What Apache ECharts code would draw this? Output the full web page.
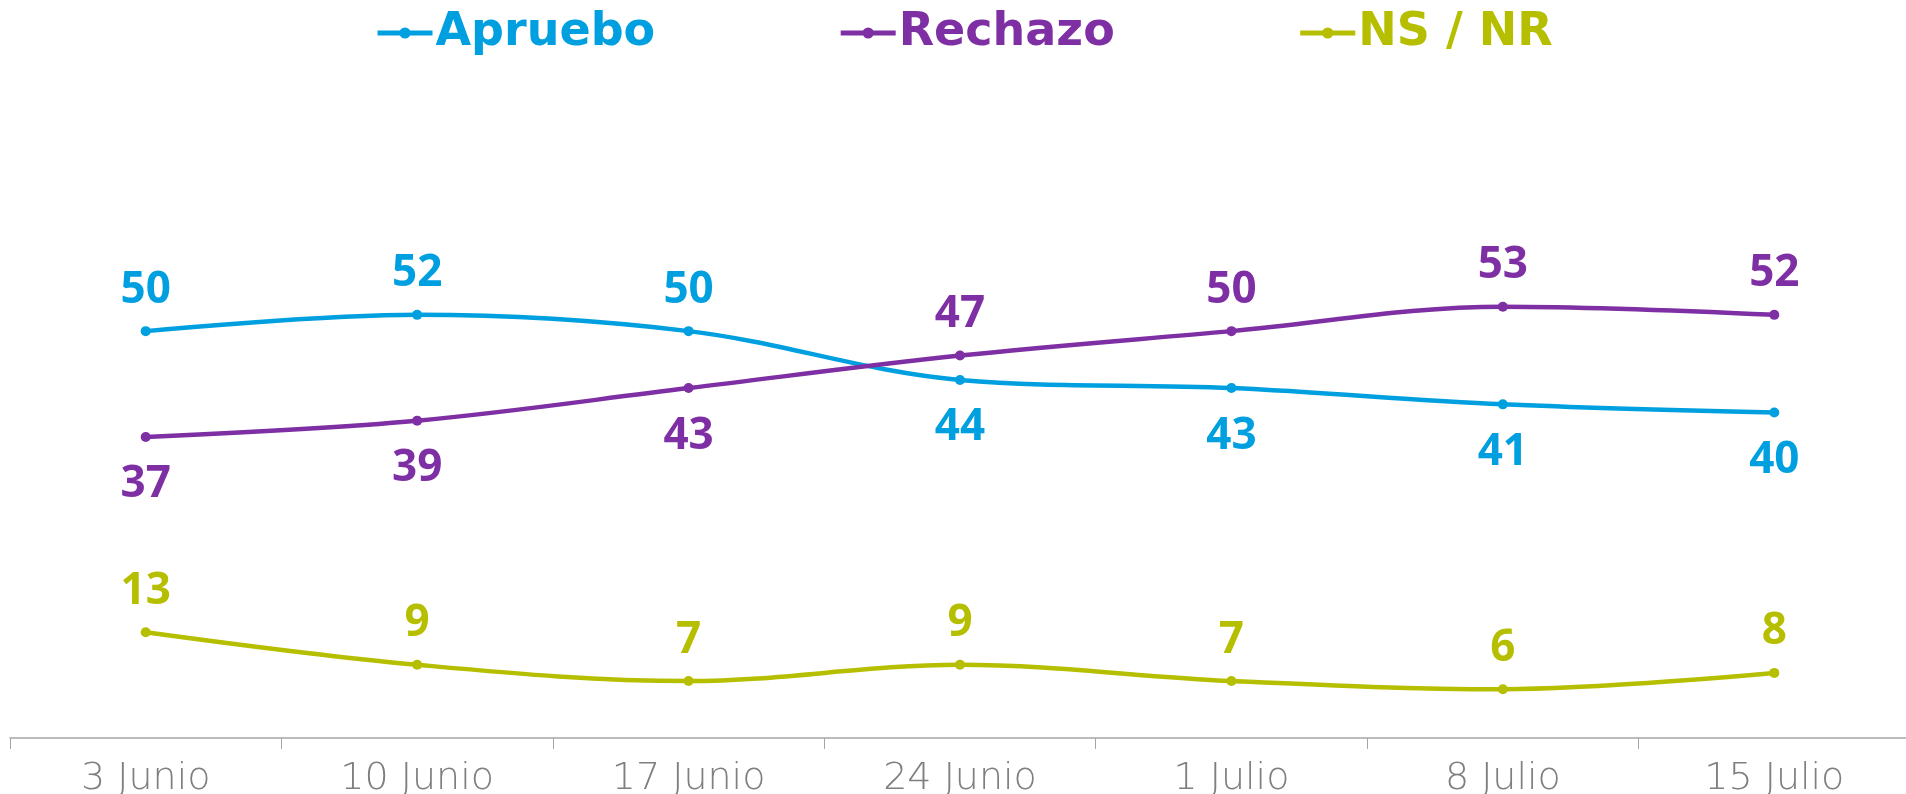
<!DOCTYPE html>
<html>
<head>
<meta charset="utf-8">
<style>
  html, body { margin: 0; padding: 0; background: #fff; }
  #main-chart { width: 1906px; height: 794px; }
</style>
<script src="https://cdn.jsdelivr.net/npm/echarts@6/dist/echarts.min.js"></script>
</head>
<body>
<div id="main-chart"></div>
<script>
const categories = ['3 Junio', '10 Junio', '17 Junio', '24 Junio', '1 Julio', '8 Julio', '15 Julio']
const apruebo = [50, 52, 50, 44, 43, 41, 40]
const rechazo = [37, 39, 43, 47, 50, 53, 52]
const nsnr = [13, 9, 7, 9, 7, 6, 8]

const COLORS = {
  apruebo: '#00A0E0',
  rechazo: '#7F2FA4',
  nsnr: '#B6BE00'
}
const LABEL_FONT = '"Open Sans", "Noto Sans", sans-serif'

// label goes above when this series sits over the other main series
const labelled = (values, other) => values.map((v, i) => {
  const below = other && v < other[i]
  return {
    value: v,
    label: { position: below ? 'bottom' : 'top', distance: below ? 21 : 14 }
  }
})

const makeSeries = (name, values, color, other) => ({
  name: name,
  type: 'line',
  smooth: 0.35,
  data: labelled(values, other),
  symbol: 'circle',
  symbolSize: 10,
  lineStyle: { width: 4.5, color: color },
  itemStyle: { color: color },
  label: {
    show: true,
    color: color,
    fontFamily: LABEL_FONT,
    fontWeight: 'bold',
    fontSize: 44
  }
})

const chart = echarts.init(document.getElementById('main-chart'))
chart.setOption({
  animation: false,
  backgroundColor: '#ffffff',
  legend: {
    top: 10,
    left: 375,
    padding: 0,
    itemWidth: 55,
    itemHeight: 14,
    itemGap: 183,
    lineStyle: { width: 5 },
    data: [
      { name: 'Apruebo', textStyle: { color: COLORS.apruebo } },
      { name: 'Rechazo', textStyle: { color: COLORS.rechazo } },
      { name: 'NS / NR', textStyle: { color: COLORS.nsnr } }
    ],
    textStyle: {
      fontFamily: '"DejaVu Sans", sans-serif',
      fontWeight: 'bold',
      fontSize: 46,
      padding: [0, 0, 0, -2]
    }
  },
  grid: {
    left: 10,
    right: -4,
    top: 87,
    bottom: 56,
    outerBoundsMode: 'none'
  },
  xAxis: {
    type: 'category',
    data: categories,
    boundaryGap: true,
    axisLine: { lineStyle: { color: '#a6a6a6', width: 1.5 } },
    axisTick: { show: true, length: 11, lineStyle: { color: '#a6a6a6' } },
    axisLabel: {
      margin: 22,
      color: '#7f7f7f',
      fontFamily: '"DejaVu Sans", sans-serif',
      fontWeight: 200,
      fontSize: 38
    }
  },
  yAxis: {
    type: 'value',
    min: 0,
    max: 80,
    show: false
  },
  series: [
    makeSeries('Apruebo', apruebo, COLORS.apruebo, rechazo),
    makeSeries('Rechazo', rechazo, COLORS.rechazo, apruebo),
    makeSeries('NS / NR', nsnr, COLORS.nsnr, null)
  ]
})
</script>
</body>
</html>
